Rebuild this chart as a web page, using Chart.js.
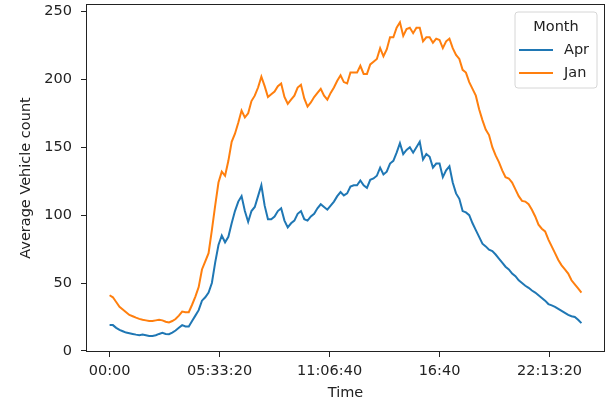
<!DOCTYPE html>
<html>
<head>
<meta charset="utf-8">
<script src="https://cdn.jsdelivr.net/npm/chart.js@4.4.0/dist/chart.umd.min.js"></script>
<style>
  body { margin: 0; background: #fff; }
  #wrap { width: 606px; height: 401px; }
</style>
</head>
<body>
<div id="wrap"><canvas id="trafficChart" width="606" height="401"></canvas></div>
<script>
  // time of day in seconds, one reading every 10 minutes
  var times = Array.from({ length: 144 }, function (_, i) { return i * 600; });

  var aprCounts = [
    19, 19, 17, 15.5, 14.5, 13.5, 13, 12.5, 12, 11.6,
    12, 11.5, 11, 11, 11.5, 12.5, 13.3, 12.5, 12.3, 13.5,
    15, 17, 19, 18, 18, 22, 26, 30, 37, 39.5,
    43, 50, 65, 78, 85, 80, 84, 94, 103, 110,
    114, 103, 95, 103, 106, 114, 122, 107, 97, 97,
    99, 103, 105, 96, 91, 94, 96, 101, 103, 97,
    96, 99, 101, 105, 108, 106, 104, 107, 110, 114,
    117, 114.5, 116, 121, 122, 122, 125.5, 122, 120, 126,
    127, 129, 135, 130, 132, 138, 140, 146, 153, 145,
    148, 150, 146, 150, 154, 141, 145, 143, 135, 138,
    138, 128, 133, 136, 124, 116, 112, 103, 102, 100,
    94, 89, 84, 79, 77, 74.5, 73.5, 71, 68, 65,
    62, 60, 57, 55, 52, 50, 48, 46.5, 44.5, 43,
    41, 39, 37, 34.5, 33.5, 32.5, 31, 29.5, 28, 26.5,
    25.5, 25, 23, 20.5
  ];

  var janCounts = [
    41, 39.5, 36, 32.5, 30.5, 28.5, 26.5, 25.5, 24.5, 23.6,
    23, 22.5, 22, 22, 22.5, 23, 22.5, 21.5, 21, 22,
    23.5, 26, 29, 28.5, 28.5, 34, 40, 47, 60, 66,
    72, 89, 107, 124, 132, 129, 140, 154, 160, 168,
    177, 172, 175, 184, 188, 194, 202, 195, 187, 189,
    191, 195, 197, 187, 182, 185, 188, 194, 196, 186,
    180, 183, 187, 190, 193, 188, 185, 190, 194, 199,
    203, 198, 197, 205, 205, 205, 210, 204, 204, 211,
    213, 215, 223, 217, 222, 231, 231, 238, 242, 232,
    237, 238, 234, 238, 238, 228, 231, 231, 227, 230,
    229, 223, 228, 230, 223, 218, 215, 207, 205, 198,
    193, 188, 178, 170, 163, 159, 150, 144, 139, 133,
    128, 127, 124, 119, 114, 110.5, 110, 108, 104, 99,
    93, 90, 88, 82, 77, 72, 67, 63, 60, 57,
    52, 49, 46, 43
  ];

  var xTickValues = [0, 20000, 40000, 60000, 80000];
  var xTickLabels = ['00:00', '05:33:20', '11:06:40', '16:40', '22:13:20'];
  var yTickValues = [0, 50, 100, 150, 200, 250];

  var FONT = { family: 'DejaVu Sans', size: 14.5 };
  var INK = '#222';

  function points(vals) {
    return vals.map(function (v, i) { return { x: times[i], y: v }; });
  }

  // box around the plot plus a matplotlib style legend
  var framePlugin = {
    id: 'frame',
    afterDraw: function (chart) {
      var c = chart.ctx, a = chart.chartArea;
      c.save();
      c.strokeStyle = INK;
      c.lineWidth = 1;
      c.strokeRect(Math.round(a.left) + 0.5, Math.round(a.top) + 0.5,
        Math.round(a.right - a.left) - 1, Math.round(a.bottom - a.top) - 1);

      // legend
      var x0 = 515, y0 = 12, w = 82, h = 76, r = 3;
      c.beginPath();
      c.moveTo(x0 + r, y0);
      c.arcTo(x0 + w, y0, x0 + w, y0 + h, r);
      c.arcTo(x0 + w, y0 + h, x0, y0 + h, r);
      c.arcTo(x0, y0 + h, x0, y0, r);
      c.arcTo(x0, y0, x0 + w, y0, r);
      c.closePath();
      c.fillStyle = 'rgba(255,255,255,0.8)';
      c.fill();
      c.strokeStyle = '#d6d6d6';
      c.stroke();

      c.font = FONT.size + 'px ' + FONT.family;
      c.fillStyle = INK;
      c.textBaseline = 'middle';
      c.textAlign = 'center';
      c.fillText('Month', x0 + w / 2, 27);
      c.textAlign = 'left';
      chart.data.datasets.forEach(function (ds, k) {
        var ly = 50 + k * 23;
        c.strokeStyle = ds.borderColor;
        c.lineWidth = 2;
        c.beginPath();
        c.moveTo(519, ly);
        c.lineTo(553, ly);
        c.stroke();
        c.fillStyle = INK;
        c.fillText(ds.label, 564, ly);
      });
      c.restore();
    }
  };

  var ctx = document.getElementById('trafficChart').getContext('2d');
  var trafficChart = new Chart(ctx, {
    type: 'line',
    data: {
      datasets: [
        {
          label: 'Apr',
          borderColor: '#1f77b4',
          backgroundColor: '#1f77b4',
          data: points(aprCounts)
        },
        {
          label: 'Jan',
          borderColor: '#ff7f0e',
          backgroundColor: '#ff7f0e',
          data: points(janCounts)
        }
      ]
    },
    options: {
      responsive: false,
      animation: false,
      events: [],
      layout: { padding: { left: 0, top: 4, right: 1, bottom: 0 } },
      elements: {
        point: { radius: 0 },
        line: { borderWidth: 2, tension: 0 }
      },
      plugins: {
        legend: { display: false },
        tooltip: { enabled: false }
      },
      scales: {
        x: {
          type: 'linear',
          min: -4290,
          max: 90090,
          afterFit: function (scale) {
            scale.height = 49;
            scale.paddingLeft = 0;
            scale.paddingRight = 0;
          },
          afterBuildTicks: function (scale) {
            scale.ticks = xTickValues.map(function (v) { return { value: v }; });
          },
          ticks: {
            padding: 6,
            maxRotation: 0,
            color: INK,
            font: FONT,
            callback: function (value) {
              var k = xTickValues.indexOf(value);
              return k >= 0 ? xTickLabels[k] : '';
            }
          },
          grid: { drawOnChartArea: false, tickLength: 5, color: INK },
          border: { display: false },
          title: {
            display: true,
            text: 'Time',
            color: INK,
            font: FONT,
            padding: { top: 0, bottom: -1 }
          }
        },
        y: {
          min: -0.8,
          max: 255.5,
          afterFit: function (scale) {
            scale.width = 86;
            scale.paddingTop = 0;
            scale.paddingBottom = 0;
          },
          afterBuildTicks: function (scale) {
            scale.ticks = yTickValues.map(function (v) { return { value: v }; });
          },
          ticks: { padding: 9, color: INK, font: FONT },
          grid: { drawOnChartArea: false, tickLength: 5, color: INK },
          border: { display: false },
          title: {
            display: true,
            text: 'Average Vehicle count',
            color: INK,
            font: FONT,
            padding: { top: 18, bottom: 0 }
          }
        }
      }
    },
    plugins: [framePlugin]
  });
</script>
</body>
</html>
